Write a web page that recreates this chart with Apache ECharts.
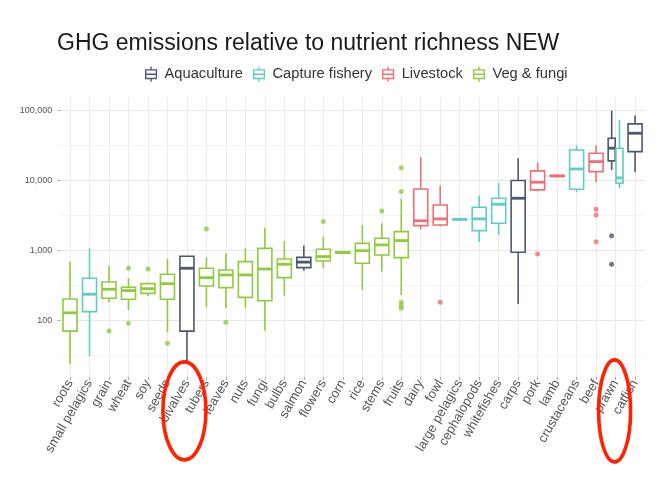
<!DOCTYPE html>
<html><head><meta charset="utf-8">
<script src="https://cdn.jsdelivr.net/npm/echarts@6/dist/echarts.min.js"></script>
<style>html,body{margin:0;padding:0;background:#fff}#c{width:668px;height:490px}</style>
</head><body><div id="c"></div>
<script>
// ---- data ([min, Q1, median, Q3, max]) ----
const categories = ['roots','small pelagics','grain','wheat','soy','seeds','bivalves','tubers','leaves','nuts','fungi','bulbs','salmon','flowers','corn','rice','stems','fruits','dairy','fowl','large pelagics','cephalopods','whitefishes','carps','pork','lamb','crustaceans','beef','prawn','catfish'];
const yTickValues = [100, 1000, 10000, 100000];
const groupNames = ['Aquaculture','Capture fishery','Livestock','Veg & fungi'];

const aquaCats = ['bivalves','salmon','carps','catfish'];
const aquaStats = [[25,70,555,824,824],[513,566,680,795,1170],[171,940,5570,10000,20840],[13120,25900,47420,64570,84700]];

const captureCats = ['small pelagics','large pelagics','cephalopods','whitefishes','crustaceans'];
const captureStats = [[31,133,236,400,1070],[2700,2750,2785,2820,2870],[1334,1920,2820,4140,6070],[1665,2445,4570,5570,9140],[6790,7500,14620,27350,31540]];

const livestockCats = ['dairy','fowl','pork','lamb','beef'];
const livestockStats = [[2005,2260,2650,7570,21500],[2200,2310,2820,4470,8450],[7000,7330,9440,13710,18030],[11300,11450,11620,11800,11950],[9440,13390,18620,24540,31540]];

const vegCats = ['roots','grain','wheat','soy','seeds','tubers','leaves','nuts','fungi','bulbs','flowers','corn','rice','stems','fruits'];
const vegStats = [[23.5,70,128,202,690],[181,207,278,353,604],[140,200,266,297,400],[222,243,283,334,345],[67,200,334,455,753],[154,310,407,555,795],[149,293,445,525,910],[151,213,445,690,1070],[71,190,542,1070,2115],[225,407,632,753,1365],[555,706,815,1037,1573],[900,915,929,945,960],[272,655,990,1260,2310],[497,860,1197,1493,2445],[230,787,1380,1854,5445]];

// prawn is split (dodged) between aquaculture and capture fishery
const prawnAquaStats = [14150,19060,28980,40270,100000];
const prawnCaptureStats = [7740,9140,10900,28980,73640];

// outliers [category, value]
const vegOutliers = [['grain',70],['wheat',555],['wheat',91],['soy',542],['seeds',47],['tubers',2030],['leaves',94],['flowers',2580],['stems',3660],['fruits',15270],['fruits',6930],['fruits',181],['fruits',162],['fruits',149]];
const livestockOutliers = [['fowl',181],['pork',890],['beef',3880],['beef',3210],['beef',1334]];
const prawnAquaOutliers = [['prawn',1625],['prawn',633]];

// ---- styling ----
const COLORS = {aqua:'#4b5873', capture:'#5fcdc4', livestock:'#f06e74', veg:'#8fcb3c'};
const FONT = 'Liberation Sans, Arial, sans-serif';
const LOG_MIN = 1.19, LOG_MAX = 5.18;

const lg = v => Math.log10(v);
function boxData(cats, stats) {
  return cats.map((c, i) => [categories.indexOf(c)].concat(stats[i].map(lg)));
}
function ptData(list) {
  return list.map(p => [categories.indexOf(p[0]), lg(p[1])]);
}
// ggplot-like box (no whisker caps, thick median) drawn through the axis scales
function makeRender(color, widthFrac, offsetFrac) {
  return function (params, api) {
    const x = api.value(0);
    const band = api.size([1, 0])[0];
    const w = band * widthFrac;
    const cx = api.coord([x, api.value(3)])[0] + band * offsetFrac;
    const y = i => api.coord([x, api.value(i)])[1];
    const yMin = y(1), yQ1 = y(2), yMed = y(3), yQ3 = y(4), yMax = y(5);
    const ls = {stroke: color, lineWidth: 1.6, fill: null};
    return {
      type: 'group',
      children: [
        {type: 'line', shape: {x1: cx, y1: yQ1, x2: cx, y2: yMin}, style: ls},
        {type: 'line', shape: {x1: cx, y1: yQ3, x2: cx, y2: yMax}, style: ls},
        {type: 'rect', shape: {x: cx - w / 2, y: yQ3, width: w, height: yQ1 - yQ3},
          style: {stroke: color, lineWidth: 1.6, fill: '#ffffff'}},
        {type: 'line', shape: {x1: cx - w / 2, y1: yMed, x2: cx + w / 2, y2: yMed},
          style: {stroke: color, lineWidth: 2.8}}
      ]
    };
  };
}
function boxSeries(name, data, color, widthFrac, offsetFrac) {
  return {
    type: 'custom', name: name, xAxisIndex: 0, yAxisIndex: 0,
    encode: {x: 0, y: [1, 2, 3, 4, 5]},
    data: data, renderItem: makeRender(color, widthFrac, offsetFrac),
    itemStyle: {color: color}, emphasis: {disabled: true}, z: 3
  };
}
function ptSeries(name, data, color, extra) {
  return Object.assign({
    type: 'scatter', name: name, xAxisIndex: 0, yAxisIndex: 0,
    data: data, symbolSize: 5, itemStyle: {color: color},
    emphasis: {disabled: true}, z: 4
  }, extra || {});
}

const legendIcon = 'path://M6,0V3M1,3H11V11H1ZM1,7H11M6,11V14';
const legendColors = [COLORS.aqua, COLORS.capture, COLORS.livestock, COLORS.veg];

const chart = echarts.init(document.getElementById('c'), null, {renderer: 'canvas'});
chart.setOption({
  animation: false,
  backgroundColor: '#ffffff',
  title: {
    text: 'GHG emissions relative to nutrient richness NEW',
    left: 57, top: 32, padding: 0,
    textStyle: {fontFamily: FONT, fontSize: 23, fontWeight: 'normal', color: '#1a1a1a'}
  },
  legend: {
    left: 145, top: 66, padding: 0, itemGap: 10, itemWidth: 17, itemHeight: 15,
    selectedMode: false,
    textStyle: {fontFamily: FONT, fontSize: 14.7, color: '#333'},
    data: groupNames.map((n, i) => ({
      name: n, icon: legendIcon,
      itemStyle: {color: '#ffffff', borderColor: legendColors[i], borderWidth: 1.4}
    }))
  },
  grid: {left: 60.3, right: 23.2, top: 98, bottom: 113.1, containLabel: false},
  xAxis: [{
    type: 'category', gridIndex: 0, data: categories,
    axisLine: {show: false},
    axisTick: {show: true, alignWithLabel: true, length: 3, lineStyle: {color: '#aaaaaa'}},
    axisLabel: {interval: 0, rotate: 60, margin: 4, fontFamily: FONT, fontSize: 13, color: '#555555'},
    splitLine: {show: true, alignWithLabel: true, lineStyle: {color: '#ebebeb', width: 1}}
  }],
  yAxis: [
    {
      type: 'value', min: LOG_MIN, max: LOG_MAX, splitNumber: 8, minInterval: 0.5, maxInterval: 0.5,
      axisLine: {show: false}, axisTick: {show: false}, axisLabel: {show: false},
      splitLine: {show: true, showMinLine: false, showMaxLine: false,
        lineStyle: {color: ['#f4f4f4', '#e7e7e7'], width: 1}}
    },
    {
      type: 'value', min: LOG_MIN, max: LOG_MAX, splitNumber: 4, minInterval: 1, maxInterval: 1,
      position: 'left',
      axisLine: {show: false},
      axisTick: {show: true, length: 3, lineStyle: {color: '#aaaaaa'}},
      splitLine: {show: false},
      axisLabel: {
        show: true, margin: 8, fontFamily: FONT, fontSize: 9, color: '#555555',
        showMinLabel: false, showMaxLabel: false,
        formatter: function (v) {
          const r = Math.round(v);
          if (Math.abs(v - r) > 1e-6) return '';
          const val = Math.pow(10, r);
          return yTickValues.indexOf(val) >= 0 ? val.toLocaleString('en-US') : '';
        }
      }
    }
  ],
  series: [
    boxSeries('Aquaculture', boxData(aquaCats, aquaStats), COLORS.aqua, 0.72, 0),
    boxSeries('Capture fishery', boxData(captureCats, captureStats), COLORS.capture, 0.72, 0),
    boxSeries('Livestock', boxData(livestockCats, livestockStats), COLORS.livestock, 0.72, 0),
    boxSeries('Veg & fungi', boxData(vegCats, vegStats), COLORS.veg, 0.72, 0),
    boxSeries('Aquaculture', boxData(['prawn'], [prawnAquaStats]), COLORS.aqua, 0.36, -0.2),
    boxSeries('Capture fishery', boxData(['prawn'], [prawnCaptureStats]), COLORS.capture, 0.36, 0.2),
    ptSeries('Veg & fungi', ptData(vegOutliers), COLORS.veg),
    ptSeries('Livestock', ptData(livestockOutliers), COLORS.livestock),
    ptSeries('Aquaculture', ptData(prawnAquaOutliers), COLORS.aqua, {symbolOffset: [-4, 0]})
  ]
});

// red annotation ellipses around two category labels
const bottomY = chart.convertToPixel({yAxisIndex: 0}, LOG_MIN);
function ring(cat, dx, rx, ry) {
  const cx = chart.convertToPixel({xAxisIndex: 0}, categories.indexOf(cat)) + dx;
  return {type: 'ellipse', z: 100, shape: {cx: cx, cy: bottomY + 34, rx: rx, ry: ry},
    style: {fill: 'none', stroke: '#ff2200', lineWidth: 3.6}};
}
chart.setOption({graphic: [ring('bivalves', -2.5, 21.5, 49), ring('prawn', -1, 16, 51)]});
</script></body></html>
